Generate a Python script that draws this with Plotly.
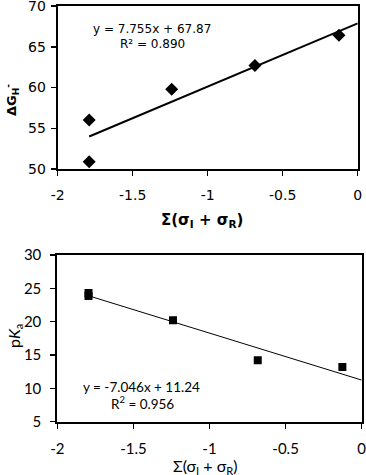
import plotly.graph_objects as go

W, H = 366, 475

# Top panel data
sigma_top = [-1.79, -1.79, -1.24, -0.685, -0.125]
dG_top = [56.0, 50.9, 59.8, 62.7, 66.4]
fit_top_x = [-1.79, 0.0]
slope_top, icpt_top = 7.755, 67.87

# Bottom panel data
sigma_bot = [-1.795, -1.795, -1.24, -0.683, -0.127]
pka_bot = [24.3, 23.85, 20.2, 14.2, 13.2]
fit_bot_x = [-1.79, 0.0]
slope_bot, icpt_bot = -7.046, 11.24

x_ticks = [-2, -1.5, -1, -0.5, 0]
x_ticklabels = ["-2", "-1.5", "-1", "-0.5", "0"]
y_ticks_top = [50, 55, 60, 65, 70]
y_ticks_bot = [5, 10, 15, 20, 25, 30]


def px_x(p):
    return p / W


def px_y(p):
    return 1 - p / H


fig = go.Figure()

fig.add_trace(go.Scatter(
    x=sigma_top, y=dG_top, mode="markers",
    marker=dict(symbol="diamond", size=10, color="black"),
    xaxis="x", yaxis="y", showlegend=False, hoverinfo="skip"))
fig.add_trace(go.Scatter(
    x=fit_top_x, y=[slope_top * v + icpt_top for v in fit_top_x], mode="lines",
    line=dict(color="black", width=2),
    xaxis="x", yaxis="y", showlegend=False, hoverinfo="skip"))

fig.add_trace(go.Scatter(
    x=sigma_bot, y=pka_bot, mode="markers",
    marker=dict(symbol="square", size=8, color="black"),
    xaxis="x2", yaxis="y2", showlegend=False, hoverinfo="skip"))
fig.add_trace(go.Scatter(
    x=fit_bot_x, y=[slope_bot * v + icpt_bot for v in fit_bot_x], mode="lines",
    line=dict(color="black", width=1),
    xaxis="x2", yaxis="y2", showlegend=False, hoverinfo="skip"))

top_font = dict(family="DejaVu Sans", size=14, color="black")
bot_font = dict(family="Lato", size=15, color="black")

axis_common = dict(showline=True, linecolor="black", linewidth=2, mirror=True,
                   showgrid=False, zeroline=False, ticks="outside", ticklen=5,
                   tickcolor="black", tickwidth=1.5, ticklabeloverflow="allow",
                   automargin=False)

fig.update_layout(
    width=W, height=H,
    margin=dict(l=0, r=0, t=0, b=0),
    paper_bgcolor="white", plot_bgcolor="white",
    xaxis=dict(domain=[px_x(57.7), px_x(357.7)], range=[-2, 0], anchor="y",
               tickvals=x_ticks, ticktext=x_ticklabels, tickfont=top_font,
               ticklabelstandoff=7, **axis_common),
    yaxis=dict(domain=[px_y(169), px_y(6)], range=[50, 70], anchor="x",
               tickvals=y_ticks_top, tickfont=top_font,
               ticklabelstandoff=2, **axis_common),
    xaxis2=dict(domain=[px_x(57.3), px_x(361.7)], range=[-2, 0], anchor="y2",
                tickvals=x_ticks, ticktext=x_ticklabels, tickfont=bot_font,
                ticklabelstandoff=7, **axis_common),
    yaxis2=dict(domain=[px_y(421.7), px_y(255)], range=[5, 30], anchor="x2",
                tickvals=y_ticks_bot, tickfont=bot_font,
                ticklabelstandoff=6, **axis_common),
)


def note(x, y, text, font, angle=0):
    return dict(xref="paper", yref="paper", x=px_x(x), y=px_y(y), text=text,
                showarrow=False, xanchor="center", yanchor="middle",
                textangle=angle, font=font)


ann = [
    note(152, 29, "y = 7.755x + 67.87", dict(family="DejaVu Sans", size=12, color="black")),
    note(152, 44, "R² = 0.890", dict(family="DejaVu Sans", size=12, color="black")),
    note(141, 387, "y = -7.046x + 11.24", dict(family="Lato", size=13.5, color="black")),
    note(142, 403, "R<sup>2</sup> = 0.956", dict(family="Lato", size=13.5, color="black")),
    note(202, 220, "<b>Σ(σ<sub>I</sub> + σ<sub>R</sub>)</b>",
         dict(family="DejaVu Sans", size=15, color="black")),
    note(12, 100, "<b>ΔG<sub>H</sub><sup>-</sup></b>",
         dict(family="DejaVu Sans", size=13, color="black"), -90),
    note(206, 466, "Σ(σ<sub>I</sub> + σ<sub>R</sub>)",
         dict(family="Lato", size=16, color="black")),
    note(14, 336, "p<i>K</i><sub>a</sub>",
         dict(family="Lato", size=16, color="black"), -90),
]
fig.update_layout(annotations=ann)

fig.write_html("out.html", config={"displayModeBar": False, "staticPlot": True},
               post_script="document.body.style.margin='0';document.body.style.overflow='hidden';")
